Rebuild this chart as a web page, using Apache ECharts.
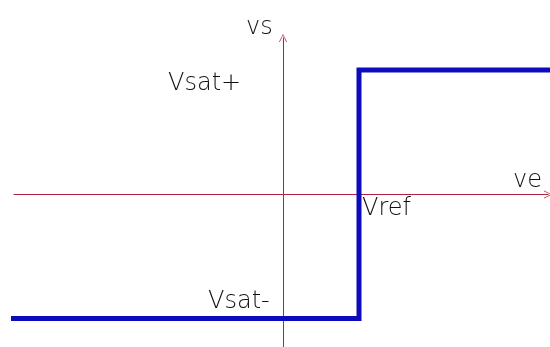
<!DOCTYPE html>
<html>
<head>
<meta charset="utf-8">
<script src="https://cdn.jsdelivr.net/npm/echarts@6/dist/echarts.min.js"></script>
<style>
  html, body { margin: 0; padding: 0; background: #fff; }
  #chart { width: 550px; height: 347px; }
</style>
</head>
<body>
<div id="chart"></div>
<script>
// transfer curve of the comparator (arbitrary units, origin = axes crossing)
const curveX = [-272, 76, 76, 267];
const curveY = [-124, -124, 124.5, 124.5];

// text labels
const axisNames = ['ve', 'vs'];
const levelLabels = ['Vsat+', 'Vsat-', 'Vref'];

const axisRed = '#b52040';
const lineBlue = '#0c0cbc';
const fontFam = 'DejaVu Sans';
const txt = '#111';

// open chevron for the axis arrows
const chevron = 'path://M0,10 L5,0 L10,10 L9,10 L5,1.6 L1,10 Z';

const chart = echarts.init(document.getElementById('chart'));

const option = {
  animation: false,
  backgroundColor: '#fff',
  grid: { left: 14, right: 2, top: 38, bottom: 0 },
  xAxis: {
    type: 'value',
    min: -269,
    max: 265,
    axisLine: {
      onZero: true,
      symbol: ['none', chevron],
      symbolSize: [9, 8],
      lineStyle: { color: axisRed, width: 1 }
    },
    axisTick: { show: false },
    axisLabel: { show: false },
    splitLine: { show: false }
  },
  yAxis: {
    type: 'value',
    min: -152.5,
    max: 156.5,
    axisLine: {
      onZero: true,
      symbol: ['none', chevron],
      symbolSize: [9, 8],
      lineStyle: { color: axisRed, width: 1 }
    },
    axisTick: { show: false },
    axisLabel: { show: false },
    splitLine: { show: false }
  },
  series: [
    {
      type: 'line',
      data: curveX.map((x, i) => [x, curveY[i]]),
      symbol: 'none',
      clip: false,
      lineStyle: { color: lineBlue, width: 5, join: 'miter', cap: 'butt' }
    }
  ],
  graphic: [
    { type: 'text', left: 246, top: 16, style: { text: axisNames[1], fill: txt, font: '200 24px ' + fontFam } },
    { type: 'text', left: 513, top: 169, style: { text: axisNames[0], fill: txt, font: '200 24px ' + fontFam } },
    { type: 'text', left: 168, top: 72, style: { text: levelLabels[0], fill: txt, font: '200 24px ' + fontFam } },
    { type: 'text', left: 208, top: 290, style: { text: levelLabels[1], fill: txt, font: '200 24px ' + fontFam } },
    { type: 'text', left: 362, top: 197, style: { text: levelLabels[2], fill: txt, font: '200 24px ' + fontFam } }
  ]
};

chart.setOption(option);
</script>
</body>
</html>
